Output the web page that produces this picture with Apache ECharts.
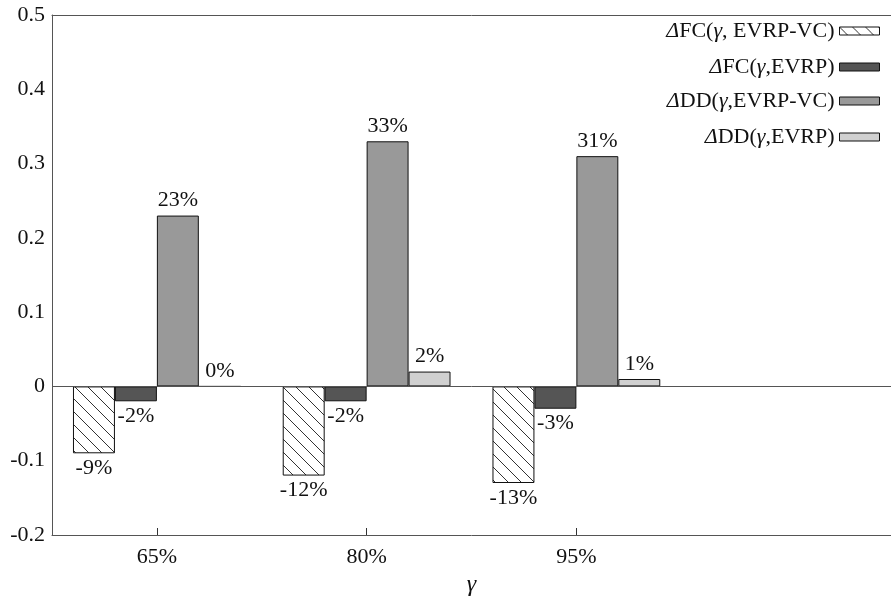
<!DOCTYPE html>
<html>
<head>
<meta charset="utf-8">
<script src="https://cdn.jsdelivr.net/npm/echarts@6/dist/echarts.min.js"></script>
<style>html,body{margin:0;padding:0;background:#fff}#c{width:891px;height:603px}</style>
</head>
<body>
<div id="c"></div>
<script>
const categories = ['65%', '80%', '95%', ''];
const seriesNames = ['ΔFC(γ, EVRP-VC)', 'ΔFC(γ,EVRP)', 'ΔDD(γ,EVRP-VC)', 'ΔDD(γ,EVRP)'];
const fcVC = [-0.09, -0.12, -0.13];
const fcEVRP = [-0.02, -0.02, -0.03];
const ddVC = [0.23, 0.33, 0.31];
const ddEVRP = [0.00, 0.02, 0.01];
const yTicks = [-0.2, -0.1, 0, 0.1, 0.2, 0.3, 0.4, 0.5];

const FONT = 'Liberation Serif';

// hatch pattern
const s = 13;
const cv = document.createElement('canvas');
cv.width = s; cv.height = s;
const cx = cv.getContext('2d');
cx.fillStyle = '#fff'; cx.fillRect(0, 0, s, s);
cx.strokeStyle = '#333'; cx.lineWidth = 1;
cx.beginPath();
cx.moveTo(0, 0); cx.lineTo(s, s);
cx.moveTo(-2, s - 2); cx.lineTo(2, s + 2);
cx.moveTo(s - 2, -2); cx.lineTo(s + 2, 2);
cx.stroke();
const hatch = { image: cv, repeat: 'repeat' };

const fills = [hatch, '#555555', '#999999', '#d0d0d0'];
const values = [fcVC, fcEVRP, ddVC, ddEVRP];

function pct(v) { return Math.round(v * 100) + '%'; }

const series = values.map((arr, k) => ({
  name: seriesNames[k],
  type: 'bar',
  barGap: '0%',
  barCategoryGap: '20%',
  itemStyle: { color: fills[k], borderColor: '#111', borderWidth: 1 },
  data: arr.map(v => ({
    value: v,
    label: { position: v < 0 ? 'bottom' : 'top' }
  })),
  label: {
    show: true,
    formatter: p => pct(p.value),
    fontFamily: FONT, fontSize: 22, color: '#111', distance: 4
  },
  markLine: k === 0 ? {
    silent: true, symbol: 'none', label: { show: false },
    lineStyle: { color: '#555', width: 1, type: 'solid' },
    data: [{ yAxis: 0 }]
  } : undefined
}));

const richLeg = {
  i: { fontFamily: FONT, fontSize: 22, fontStyle: 'italic', color: '#111' },
  n: { fontFamily: FONT, fontSize: 22, color: '#111' }
};
function legFmt(name) {
  return name.split(/(Δ|γ)/).filter(t => t).map(t => (t === 'Δ' || t === 'γ') ? '{i|' + t + '}' : '{n|' + t + '}').join('');
}
const legTops = [20, 56, 90, 126];
const legend = seriesNames.map((n, k) => ({
  data: [n],
  right: 11,
  top: legTops[k],
  align: 'right',
  icon: 'rect',
  itemWidth: 40,
  itemHeight: 8,
  itemGap: 0,
  padding: 0,
  selectedMode: false,
  formatter: legFmt,
  textStyle: { fontFamily: FONT, fontSize: 22, color: '#111', rich: richLeg, padding: 0 },
  itemStyle: { borderColor: '#111', borderWidth: 1 }
}));

const chart = echarts.init(document.getElementById('c'), null, { renderer: 'canvas' });
chart.setOption({
  animation: false,
  backgroundColor: '#fff',
  legend: legend,
  grid: { left: 52, right: 0, top: 15, bottom: 68, containLabel: false, outerBoundsMode: 'none' },
  xAxis: [{
    type: 'category',
    data: categories,
    position: 'bottom',
    axisLine: { onZero: false, lineStyle: { color: '#555', width: 1 } },
    axisTick: { show: true, alignWithLabel: true, inside: true, length: 7,
      interval: (idx, val) => val !== '',
      lineStyle: { color: '#333', width: 1 } },
    axisLabel: { fontFamily: FONT, fontSize: 22, color: '#111', margin: 11 },
    name: 'γ',
    nameLocation: 'middle',
    nameGap: 36,
    nameTextStyle: { fontFamily: FONT, fontSize: 24, fontStyle: 'italic', color: '#111' }
  }, {
    type: 'category',
    data: categories,
    position: 'top',
    axisLine: { show: true, onZero: false, lineStyle: { color: '#555', width: 1 } },
    axisTick: { show: false },
    axisLabel: { show: false }
  }],
  yAxis: {
    type: 'value',
    min: -0.2, max: 0.5, interval: 0.1,
    splitLine: { show: false },
    axisLine: { show: true, lineStyle: { color: '#555', width: 1 } },
    axisTick: { show: false },
    axisLabel: {
      fontFamily: FONT, fontSize: 22, color: '#111', margin: 7,
      formatter: v => {
        const r = Math.round(v * 10) / 10;
        return yTicks.indexOf(r) >= 0 ? String(r) : '';
      }
    }
  },
  series: series
});
</script>
</body>
</html>
